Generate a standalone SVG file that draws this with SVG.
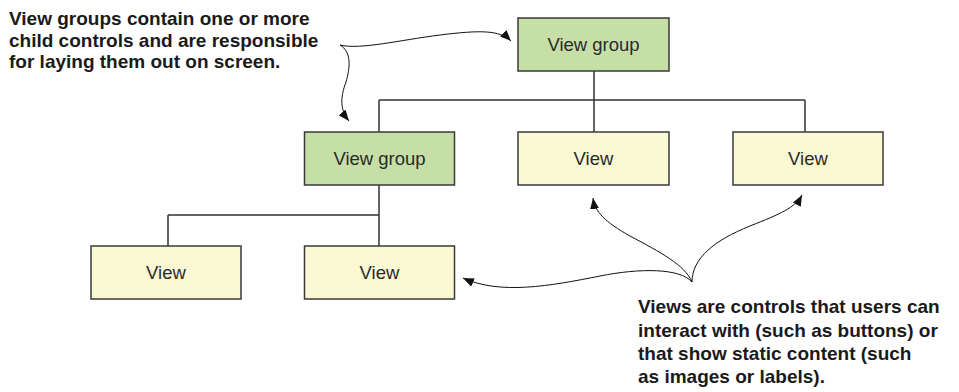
<svg xmlns="http://www.w3.org/2000/svg" width="959" height="392" viewBox="0 0 959 392">
<style>
.vg{fill:#c5dfa6;stroke:#3a3a3a;stroke-width:1.5}
.v{fill:#fbf8d4;stroke:#3a3a3a;stroke-width:1.5}
.lbl{font-family:"Liberation Sans",Arial,sans-serif;font-size:18.5px;fill:#2a2a2a;text-anchor:middle}
.note{font-family:"Liberation Sans",Arial,sans-serif;font-size:19px;font-weight:bold;fill:#1a1a1a}
.tree{stroke:#333;stroke-width:1.5;fill:none}
.call{stroke:#111;stroke-width:1;fill:none;marker-end:url(#ah)}
</style>
<defs>
<marker id="ah" markerUnits="userSpaceOnUse" markerWidth="12" markerHeight="10" refX="11" refY="4.5" orient="auto">
<path d="M0,0 L11,4.5 L0,9 z" fill="#111"/>
</marker>
</defs>
<g id="connectors">
<path class="tree" d="M594 71 V132 M379 100 H805 M379 100 V132 M805 100 V132 M379 185 V246 M168 215 H379 M168 215 V246"/>
<path class="call" d="M340,45 C360,50 400,40 440,35 C480,30 500,30 511,41"/>
<path class="call" d="M340,45 C352,52 350,68 346,82 C340,98 340,110 349,121"/>
<path class="call" d="M692,282 C680,268 640,268 600,276 C550,286 500,295 463,278"/>
<path class="call" d="M692,282 C685,265 660,252 630,236 C605,222 595,212 593,198"/>
<path class="call" d="M692,282 C692,258 715,240 750,226 C780,214 795,208 802,195"/>
</g>
<g id="vg1"><rect class="vg" x="518" y="18" width="151" height="53"/><text class="lbl" x="593.5" y="50.5">View group</text></g>
<g id="vg2"><rect class="vg" x="304.5" y="132" width="150" height="53"/><text class="lbl" x="379.5" y="164.5">View group</text></g>
<g id="v1"><rect class="v" x="518" y="132" width="151" height="53"/><text class="lbl" x="593.5" y="164.5">View</text></g>
<g id="v2"><rect class="v" x="733" y="132" width="150" height="53"/><text class="lbl" x="808" y="164.5">View</text></g>
<g id="v3"><rect class="v" x="91" y="246" width="150" height="53"/><text class="lbl" x="166" y="278.5">View</text></g>
<g id="v4"><rect class="v" x="304.5" y="246" width="150" height="53"/><text class="lbl" x="379.5" y="278.5">View</text></g>
<g id="note-top">
<text class="note" x="9" y="25">View groups contain one or more</text>
<text class="note" x="9" y="46.5">child controls and are responsible</text>
<text class="note" x="9" y="68">for laying them out on screen.</text>
</g>
<g id="note-bottom">
<text class="note" x="638" y="313">Views are controls that users can</text>
<text class="note" x="638" y="336.5">interact with (such as buttons) or</text>
<text class="note" x="638" y="359.5">that show static content (such</text>
<text class="note" x="638" y="382.5">as images or labels).</text>
</g>
</svg>
